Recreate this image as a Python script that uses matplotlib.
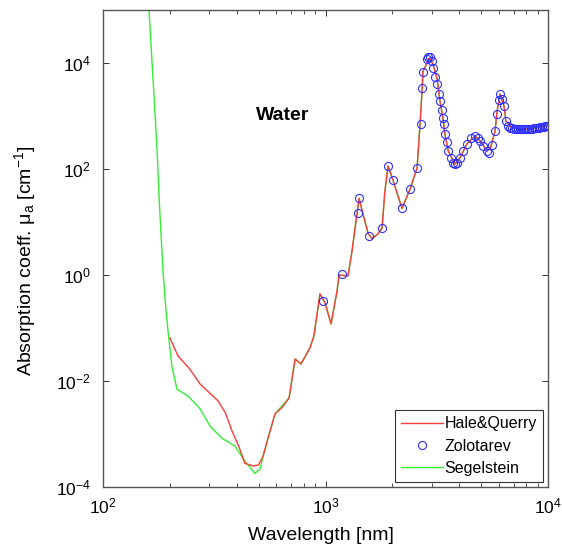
import matplotlib
matplotlib.use('Agg')
import matplotlib.pyplot as plt
from matplotlib.ticker import LogLocator, NullLocator

plt.rcParams['font.family'] = ['Liberation Sans', 'DejaVu Sans']
plt.rcParams['mathtext.fontset'] = 'custom'
plt.rcParams['mathtext.rm'] = 'Liberation Sans'
plt.rcParams['mathtext.it'] = 'Liberation Sans:italic'
plt.rcParams['mathtext.default'] = 'regular'

# Segelstein (green)
seg_wl = [159, 161, 168, 175, 179, 186, 192, 196, 204, 215, 241, 273, 303, 343, 392, 434,
          482, 508, 524, 550, 593, 686, 730, 776, 851, 887, 944, 995, 1059, 1127, 1150,
          1262, 1315, 1358, 1416, 1475, 1552, 1618, 1722, 1795, 1849, 1910, 2010, 2207,
          2400, 2580, 2660, 2720, 2740, 2920, 3040, 3170, 3270, 3370, 3440, 3560, 3820,
          4020, 4320, 4700, 4950, 5320, 5500, 5780, 5900, 6080, 6340, 6470, 6890, 8050, 10000]
seg_mu = [1.5e5, 9.6e4, 4600, 219, 25, 1.2, 0.21, 0.088, 0.019, 0.007, 0.0052, 0.003,
          0.0014, 8.3e-4, 5.9e-4, 3.1e-4, 1.8e-4, 2.2e-4, 3.8e-4, 8e-4, 0.0024, 0.0048,
          0.026, 0.021, 0.042, 0.071, 0.44, 0.30, 0.12, 0.5, 1.0, 0.96, 2.8, 7.7, 28, 14,
          6.2, 4.8, 6.0, 7.7, 38, 114, 62, 18, 42, 105, 708, 3400, 6800, 12300, 9600, 5200,
          1900, 920, 460, 219, 124, 162, 297, 420, 340, 219, 240, 520, 1200, 2600, 1550,
          800, 590, 570, 650]

# Hale & Querry (red)
hq_wl = [200, 217, 245, 273, 329, 355, 380, 410, 434, 472, 500, 524, 550, 593, 640, 686,
         730, 776, 851, 887, 944, 995, 1059, 1127, 1150, 1262, 1315, 1358, 1416, 1475,
         1552, 1618, 1722, 1795, 1849, 1910, 2010, 2207, 2400, 2580, 2660, 2720, 2740,
         2920, 3040, 3170, 3270, 3370, 3440, 3560, 3820, 4020, 4320, 4700, 4950, 5320,
         5500, 5780, 5900, 6080, 6340, 6470, 6890, 8050, 10000]
hq_mu = [0.065, 0.030, 0.017, 0.0088, 0.0042, 0.0025, 0.00114, 5.5e-4, 2.8e-4, 2.5e-4,
         2.6e-4, 3.8e-4, 8e-4, 0.0024, 0.0032, 0.0048, 0.026, 0.021, 0.042, 0.071, 0.44,
         0.30, 0.12, 0.5, 1.0, 0.96, 2.8, 7.7, 28, 14, 6.2, 4.8, 6.0, 7.7, 38, 114, 62, 18,
         42, 105, 708, 3400, 6800, 12300, 9600, 5200, 1900, 920, 460, 219, 124, 162, 297,
         420, 340, 219, 240, 520, 1200, 2600, 1550, 800, 590, 570, 650]

# Zolotarev (blue circles)
zol_wl = [975, 1190, 1400, 1416, 1570, 1795, 1910, 2010, 2207, 2400, 2580, 2685, 2720,
          2740, 2860, 2900, 2950, 3000, 3040, 3100, 3170, 3220, 3270, 3330, 3370, 3400,
          3440, 3500, 3560, 3650, 3750, 3820, 3900, 4020, 4150, 4320, 4500, 4700, 4850,
          4950, 5100, 5320, 5450, 5600, 5780, 5900, 6000, 6080, 6200, 6340, 6470, 6600,
          6750, 6890, 7000, 7150, 7300, 7450, 7600, 7750, 7900, 8050, 8200, 8350, 8500,
          8650, 8800, 8950, 9100, 9250, 9400, 9550, 9700, 9850, 10000]
zol_mu = [0.32, 1.05, 15, 28, 5.5, 7.7, 114, 62, 18, 42, 105, 700, 3400, 6800, 12000,
          13000, 12800, 11000, 8000, 5500, 4000, 2600, 1900, 1300, 920, 700, 460, 330, 219,
          160, 130, 124, 130, 162, 220, 297, 380, 420, 390, 340, 270, 219, 200, 280, 520,
          1100, 2000, 2600, 2100, 1550, 800, 650, 600, 590, 580, 575, 570, 565, 565, 565,
          565, 570, 570, 575, 580, 585, 590, 600, 605, 615, 625, 630, 640, 650, 660]

fig = plt.figure(figsize=(5.62, 5.54), dpi=100)
ax = fig.add_axes([0.1833, 0.1209, 0.7918, 0.8611])

l_seg, = ax.plot(seg_wl, seg_mu, color='#33ee33', lw=1.0)
l_hq, = ax.plot(hq_wl, hq_mu, color='#ff3b3b', lw=1.0)
l_zol, = ax.plot(zol_wl, zol_mu, 'o', ls='none', mfc='none', mec='#3030ff',
                 ms=5.8, mew=0.8)

ax.set_xscale('log')
ax.set_yscale('log')
ax.set_xlim(1e2, 1e4)
ax.set_ylim(1e-4, 1e5)
ax.set_yticks([1e-4, 1e-2, 1e0, 1e2, 1e4])
ax.yaxis.set_minor_locator(NullLocator())
ax.xaxis.set_minor_locator(LogLocator(base=10, subs=range(2, 10)))

ax.tick_params(which='both', direction='in', top=True, right=True, labelsize=12.5,
               color='#333333')
ax.tick_params(which='major', length=4, width=0.7)
ax.tick_params(which='minor', length=3, width=0.6)
ax.tick_params(axis='x', pad=7)
ax.tick_params(axis='y', pad=9)
for s in ax.spines.values():
    s.set_color('#555555')
    s.set_linewidth(1.0)

ax.set_xlabel('Wavelength [nm]', fontsize=14)
ax.set_ylabel('Absorption coeff. μ$_{a}$ [cm$^{-1}$]', fontsize=14)
ax.xaxis.set_label_coords(0.49, -0.084)
ax.yaxis.set_label_coords(-0.146, 0.474)
ax.text(644, 1000, 'Water', fontsize=14, fontweight='bold', ha='center', va='center')

leg = ax.legend([l_hq, l_zol, l_seg], ['Hale&Querry', 'Zolotarev', 'Segelstein'],
                loc='lower right', fontsize=11.5, numpoints=1, handlelength=2.6,
                fancybox=False, framealpha=1, borderaxespad=0.3, labelspacing=0.45,
                handletextpad=0.1, borderpad=0.4)
leg.get_frame().set_edgecolor('#333333')
leg.get_frame().set_linewidth(0.8)

fig.savefig('out.png', dpi=100)
